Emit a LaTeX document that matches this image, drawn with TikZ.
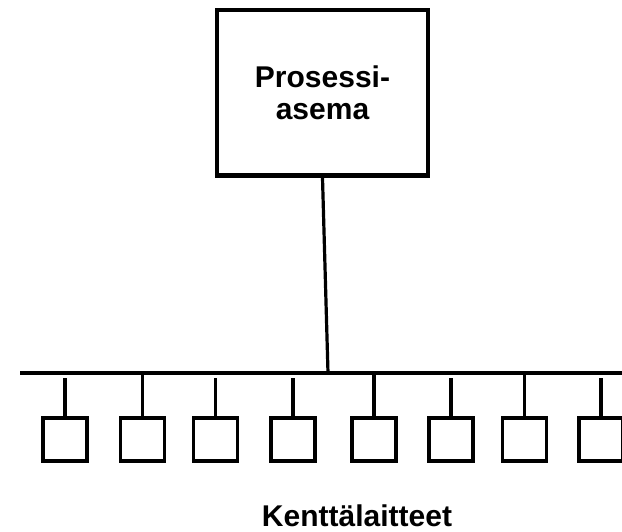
\documentclass[tikz,border=0pt]{standalone}
\usepackage{fontspec}
\setmainfont{Liberation Sans}

\begin{document}
\begin{tikzpicture}[x=1pt, y=1pt]
\tikzstyle{station} = [rectangle, minimum width=211pt, minimum height=165.5pt, inner sep=0pt, text centered, align=center, draw=black, line width=4.5pt, font=\bfseries\fontsize{30}{32}\selectfont]
\tikzstyle{device} = [rectangle, minimum width=44pt, minimum height=43pt, inner sep=0pt, draw=black, line width=3.2pt]
\tikzstyle{bus} = [line width=4pt, -]
\tikzstyle{link} = [line width=3.2pt, -]
\tikzstyle{label} = [font=\bfseries\fontsize{30}{32}\selectfont, inner sep=0pt, anchor=base]

    \useasboundingbox (0, 0) rectangle (622, 531);

	\node (asema) at (322.5, 438) [station] {Prosessi-\\asema};

    \coordinate (busL) at (20, 158);
    \coordinate (busR) at (630, 158);
    \coordinate (tap) at (328, 158);

    % field devices on the bus: x position / gap under the bus
    \foreach \x/\gap [count=\i] in {65/5, 142.5/0, 215.5/5, 293/5, 374/0, 451/5, 524.5/0, 601/5} {
        \node (dev\i) at (\x, 91.5) [device] {};
        \draw [link, shorten >=\gap pt] (dev\i.north) -- (dev\i.north |- busL);
    }

    \node (kentta) at (357, 5) [label] {Kenttälaitteet};

    \draw [bus] (busL) -- (busR);
    \draw [link] (asema.south) -- (tap);
\end{tikzpicture}
\end{document}
